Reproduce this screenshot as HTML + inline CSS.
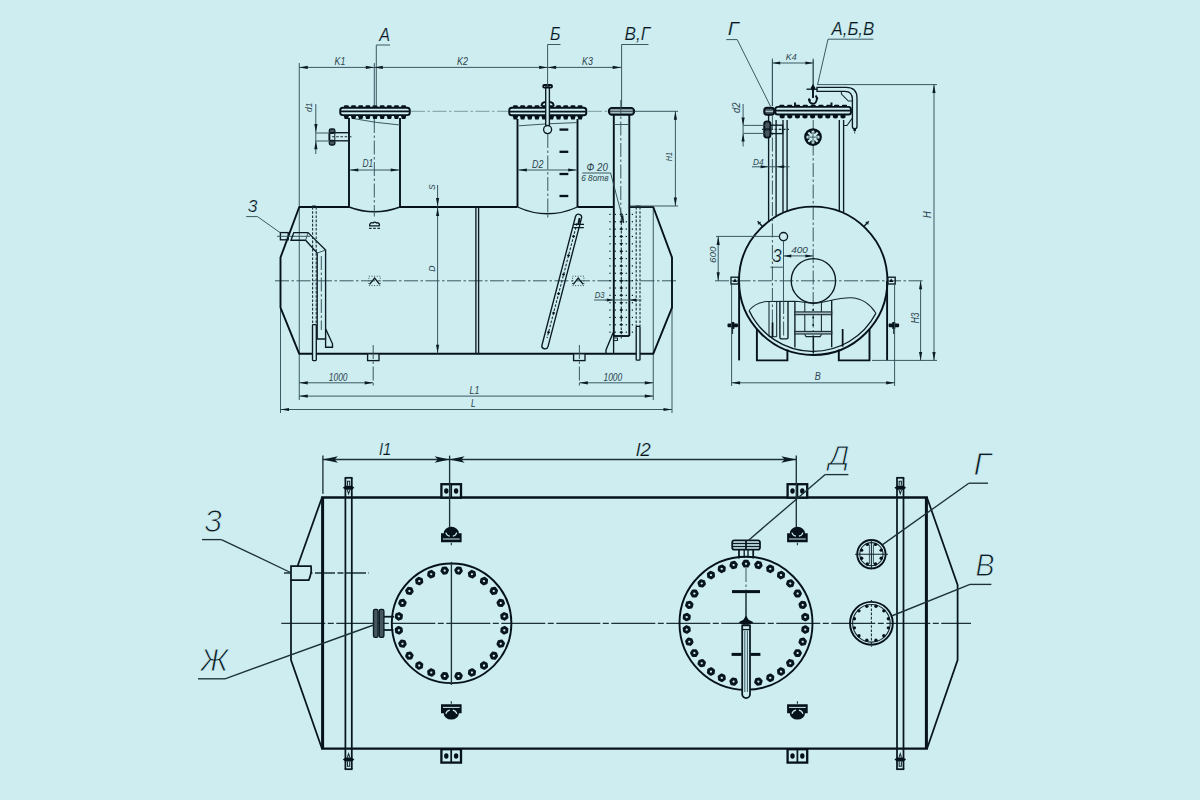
<!DOCTYPE html>
<html lang="ru">
<head>
<meta charset="utf-8">
<title>Резервуар</title>
<style>
html,body{margin:0;padding:0;background:#cdedf0;}
body{width:1200px;height:800px;overflow:hidden;}
svg{display:block;}
svg *{fill:none;stroke-linecap:butt;stroke-linejoin:miter;}
.k{stroke:#06121b;stroke-width:1.9;}
.n{stroke:#0b1a24;stroke-width:1.35;}
.m{stroke:#14252f;stroke-width:1.05;}
.t{stroke:#34505a;stroke-width:0.95;}
.p{stroke:#1d313b;stroke-width:1.35;}
.k2{stroke:#06121b;stroke-width:2.3;}
.k3{stroke:#06121b;stroke-width:3;}
.n2{stroke:#08161f;stroke-width:1.75;}
.cp{stroke:#1d313b;stroke-width:1.3;stroke-dasharray:44 2.5 6 2.5;}
.fg{fill:#46575f;}
.c{stroke:#34505a;stroke-width:0.95;stroke-dasharray:14 2.5 2.5 2.5;}
.d{stroke:#1b2f3a;stroke-width:1.1;stroke-dasharray:2.6 1.6;}
.dt{stroke:#34505a;stroke-width:1;stroke-dasharray:1 1.6;}
.ah{fill:#0c1c26;stroke:none;}
.fk{fill:#06121b;stroke:none;}
.fb{fill:#cdedf0;}
svg text{fill:#2c434d;stroke:none;font-family:"Liberation Sans","DejaVu Sans",sans-serif;font-style:italic;}
svg text.big{fill:#08151e;stroke:#cdedf0;stroke-width:0.2;}
svg text.huge{fill:#0d1c26;stroke:#cdedf0;stroke-width:0.9;}
</style>
</head>
<body>
<svg width="1200" height="800" viewBox="0 0 1200 800">
<rect x="0" y="0" width="1200" height="800" style="fill:#cdedf0;stroke:none"/>
<g id="side">
<line class="t" x1="299.25" y1="63" x2="299.25" y2="400"/>
<line class="t" x1="653.25" y1="207" x2="653.25" y2="400"/>
<line class="t" x1="280.5" y1="307" x2="280.5" y2="413"/>
<line class="t" x1="672" y1="307" x2="672" y2="413"/>
<line class="c" x1="275" y1="280.8" x2="678" y2="280.8"/>
<polyline class="k" points="299.25,207 280.5,257.5 280.5,307.5 299.25,353.8"/>
<polyline class="k" points="653.25,207 672,257.5 672,307.5 653.25,353.8"/>
<line class="k" x1="298.75" y1="207" x2="349" y2="207"/>
<line class="k" x1="400" y1="207" x2="517.5" y2="207"/>
<line class="k" x1="577.5" y1="207" x2="613.6" y2="207"/>
<line class="k" x1="629.2" y1="207" x2="653.75" y2="207"/>
<line class="k" x1="298.75" y1="353.8" x2="653.75" y2="353.8"/>
<line class="n" x1="475.9" y1="207" x2="475.9" y2="353.8"/>
<line class="n" x1="478.6" y1="207" x2="478.6" y2="353.8"/>
<line class="k" x1="349" y1="118" x2="349" y2="207"/>
<line class="k" x1="400" y1="118" x2="400" y2="207"/>
<path class="n" d="M349,207 Q374.5,216.6 400,207"/>
<path class="t" d="M353,118.5 Q376,123 400,125"/>
<line class="c" x1="374.3" y1="119" x2="374.3" y2="216.5"/>
<rect class="fk" x="343.94" y="105.2" width="4.87" height="2.6" rx="1.1"/>
<polygon class="fk" points="343.64,115.5 349.11,115.5 348.11,119 344.64,119"/>
<rect class="fk" x="351.1" y="105.2" width="4.87" height="2.6" rx="1.1"/>
<polygon class="fk" points="350.8,115.5 356.27,115.5 355.27,119 351.8,119"/>
<rect class="fk" x="358.26" y="105.2" width="4.87" height="2.6" rx="1.1"/>
<polygon class="fk" points="357.96,115.5 363.42,115.5 362.42,119 358.96,119"/>
<rect class="fk" x="365.41" y="105.2" width="4.87" height="2.6" rx="1.1"/>
<polygon class="fk" points="365.11,115.5 370.58,115.5 369.58,119 366.11,119"/>
<rect class="fk" x="372.57" y="105.2" width="4.87" height="2.6" rx="1.1"/>
<polygon class="fk" points="372.27,115.5 377.73,115.5 376.73,119 373.27,119"/>
<rect class="fk" x="379.72" y="105.2" width="4.87" height="2.6" rx="1.1"/>
<polygon class="fk" points="379.42,115.5 384.89,115.5 383.89,119 380.42,119"/>
<rect class="fk" x="386.88" y="105.2" width="4.87" height="2.6" rx="1.1"/>
<polygon class="fk" points="386.58,115.5 392.04,115.5 391.04,119 387.58,119"/>
<rect class="fk" x="394.03" y="105.2" width="4.87" height="2.6" rx="1.1"/>
<polygon class="fk" points="393.73,115.5 399.2,115.5 398.2,119 394.73,119"/>
<rect class="fk" x="401.19" y="105.2" width="4.87" height="2.6" rx="1.1"/>
<polygon class="fk" points="400.89,115.5 406.36,115.5 405.36,119 401.89,119"/>
<rect class="k fb" x="340.2" y="107.7" width="69.6" height="7.4" rx="2.6"/>
<line class="n2" x1="340.3" y1="111.4" x2="409.7" y2="111.4"/>
<rect class="n fg" x="329.3" y="129" width="5.6" height="4.2" rx="1.8"/>
<rect class="n fg" x="329.3" y="140.4" width="5.6" height="4.6" rx="1.8"/>
<line class="n" x1="329.6" y1="132.7" x2="349" y2="132.7"/>
<line class="n" x1="329.6" y1="140.8" x2="349" y2="140.8"/>
<line class="k" x1="329.4" y1="132.7" x2="329.4" y2="140.8"/>
<line class="m" x1="334.8" y1="132.7" x2="334.8" y2="140.8"/>
<line class="d" x1="332" y1="136.8" x2="353" y2="136.8"/>
<line class="t" x1="315.8" y1="104" x2="315.8" y2="154"/>
<polygon class="ah" points="315.9,132.6 314.3,124.1 317.5,124.1"/>
<polygon class="ah" points="315.9,140.8 317.5,149.3 314.3,149.3"/>
<line class="t" x1="315.8" y1="133" x2="330" y2="133"/>
<line class="t" x1="315.8" y1="141" x2="330" y2="141"/>
<text class="tx" x="312.4" y="112" font-size="9.6" textLength="9.4" lengthAdjust="spacingAndGlyphs" transform="rotate(-90 312.4 112)">d1</text>
<line class="t" x1="349.8" y1="170" x2="399.2" y2="170"/>
<polygon class="ah" points="349.8,170 358.3,168.4 358.3,171.6"/>
<polygon class="ah" points="399.2,170 390.7,171.6 390.7,168.4"/>
<text class="tx" x="362.5" y="167.4" font-size="10" textLength="10.7" lengthAdjust="spacingAndGlyphs">D1</text>
<line class="t" x1="376.3" y1="45" x2="376.3" y2="106"/>
<line class="t" x1="376.3" y1="45" x2="390" y2="45"/>
<text class="big" x="379.3" y="41" font-size="17.5" textLength="10.8" lengthAdjust="spacingAndGlyphs">А</text>
<line class="k" x1="517.5" y1="119" x2="517.5" y2="207"/>
<line class="k" x1="577.5" y1="119" x2="577.5" y2="207"/>
<path class="n" d="M517.5,207 Q547.5,220.6 577.5,207"/>
<path class="t" d="M519,125.8 L548,123.8 L577,122.6"/>
<line class="c" x1="547.8" y1="134" x2="547.8" y2="219"/>
<rect class="fk" x="512.95" y="105.2" width="4.89" height="2.6" rx="1.1"/>
<polygon class="fk" points="512.65,115.7 518.14,115.7 517.14,119.4 513.65,119.4"/>
<rect class="fk" x="520.14" y="105.2" width="4.89" height="2.6" rx="1.1"/>
<polygon class="fk" points="519.84,115.7 525.33,115.7 524.33,119.4 520.84,119.4"/>
<rect class="fk" x="527.33" y="105.2" width="4.89" height="2.6" rx="1.1"/>
<polygon class="fk" points="527.03,115.7 532.52,115.7 531.52,119.4 528.03,119.4"/>
<rect class="fk" x="534.52" y="105.2" width="4.89" height="2.6" rx="1.1"/>
<polygon class="fk" points="534.22,115.7 539.71,115.7 538.71,119.4 535.22,119.4"/>
<rect class="fk" x="541.71" y="105.2" width="4.89" height="2.6" rx="1.1"/>
<polygon class="fk" points="541.41,115.7 546.9,115.7 545.9,119.4 542.41,119.4"/>
<rect class="fk" x="548.9" y="105.2" width="4.89" height="2.6" rx="1.1"/>
<polygon class="fk" points="548.6,115.7 554.09,115.7 553.09,119.4 549.6,119.4"/>
<rect class="fk" x="556.09" y="105.2" width="4.89" height="2.6" rx="1.1"/>
<polygon class="fk" points="555.79,115.7 561.28,115.7 560.28,119.4 556.79,119.4"/>
<rect class="fk" x="563.28" y="105.2" width="4.89" height="2.6" rx="1.1"/>
<polygon class="fk" points="562.98,115.7 568.47,115.7 567.47,119.4 563.98,119.4"/>
<rect class="fk" x="570.47" y="105.2" width="4.89" height="2.6" rx="1.1"/>
<polygon class="fk" points="570.17,115.7 575.66,115.7 574.66,119.4 571.17,119.4"/>
<rect class="fk" x="577.66" y="105.2" width="4.89" height="2.6" rx="1.1"/>
<polygon class="fk" points="577.36,115.7 582.85,115.7 581.85,119.4 578.36,119.4"/>
<rect class="k fb" x="509.2" y="107.7" width="77.1" height="7.6" rx="2.6"/>
<line class="n2" x1="509.3" y1="111.5" x2="586.2" y2="111.5"/>
<rect class="n fb" x="545.7" y="87" width="3.7" height="38.5"/>
<rect class="k" x="543.2" y="85" width="8.8" height="2.6" rx="1.2"/>
<path class="k" d="M541.5,106 Q541.8,102.2 545.5,102 M549.6,102 Q553.4,102.2 553.7,106"/>
<circle class="n fb" cx="547.6" cy="129.6" r="4"/>
<line class="k2" x1="559.5" y1="129.6" x2="568.3" y2="129.6"/>
<line class="k2" x1="559.5" y1="151.8" x2="568.3" y2="151.8"/>
<line class="k2" x1="559.5" y1="174" x2="568.3" y2="174"/>
<line class="k2" x1="559.5" y1="196" x2="568.3" y2="196"/>
<line class="t" x1="518.3" y1="170" x2="576.7" y2="170"/>
<polygon class="ah" points="518.3,170 526.8,168.4 526.8,171.6"/>
<polygon class="ah" points="576.7,170 568.2,171.6 568.2,168.4"/>
<text class="tx" x="532" y="167.5" font-size="10" textLength="11.4" lengthAdjust="spacingAndGlyphs">D2</text>
<line class="t" x1="547.6" y1="44.5" x2="547.6" y2="86"/>
<line class="t" x1="547.6" y1="44.5" x2="560.5" y2="44.5"/>
<text class="big" x="550" y="40.3" font-size="17.5" textLength="10.5" lengthAdjust="spacingAndGlyphs">Б</text>
<line class="k" x1="613.8" y1="114.5" x2="613.8" y2="336"/>
<line class="k" x1="629.3" y1="114.5" x2="629.3" y2="336"/>
<line class="k" x1="613.8" y1="336" x2="629.3" y2="336"/>
<line class="t" x1="613.8" y1="124.5" x2="629.3" y2="124.5"/>
<rect class="k fg" x="608.8" y="107.9" width="25.4" height="6.8" rx="3.2"/>
<line x1="610.5" y1="110" x2="632.5" y2="110" style="stroke:#cdedf0;stroke-width:1"/>
<line x1="610.5" y1="112.8" x2="632.5" y2="112.8" style="stroke:#cdedf0;stroke-width:1"/>
<line class="c" x1="620.8" y1="100" x2="620.8" y2="215"/>
<rect class="fk" x="609.4" y="213.8" width="1.2" height="1.2"/>
<rect class="fk" x="614.7" y="213.8" width="1.2" height="1.2"/>
<rect class="fk" x="625.7" y="213.8" width="1.2" height="1.2"/>
<rect class="fk" x="631.8" y="213.8" width="1.2" height="1.2"/>
<polygon class="fk" points="619.4,214.4 621.3,212.9 623.2,214.4 621.3,215.9"/>
<rect class="fk" x="609.4" y="221.16" width="1.2" height="1.2"/>
<rect class="fk" x="614.7" y="221.16" width="1.2" height="1.2"/>
<rect class="fk" x="625.7" y="221.16" width="1.2" height="1.2"/>
<rect class="fk" x="631.8" y="221.16" width="1.2" height="1.2"/>
<polygon class="fk" points="619.4,221.76 621.3,220.26 623.2,221.76 621.3,223.26"/>
<rect class="fk" x="609.4" y="228.52" width="1.2" height="1.2"/>
<rect class="fk" x="614.7" y="228.52" width="1.2" height="1.2"/>
<rect class="fk" x="625.7" y="228.52" width="1.2" height="1.2"/>
<rect class="fk" x="631.8" y="228.52" width="1.2" height="1.2"/>
<polygon class="fk" points="619.4,229.12 621.3,227.62 623.2,229.12 621.3,230.62"/>
<rect class="fk" x="609.4" y="235.88" width="1.2" height="1.2"/>
<rect class="fk" x="614.7" y="235.88" width="1.2" height="1.2"/>
<rect class="fk" x="625.7" y="235.88" width="1.2" height="1.2"/>
<rect class="fk" x="631.8" y="235.88" width="1.2" height="1.2"/>
<polygon class="fk" points="619.4,236.48 621.3,234.98 623.2,236.48 621.3,237.98"/>
<rect class="fk" x="609.4" y="243.24" width="1.2" height="1.2"/>
<rect class="fk" x="614.7" y="243.24" width="1.2" height="1.2"/>
<rect class="fk" x="625.7" y="243.24" width="1.2" height="1.2"/>
<rect class="fk" x="631.8" y="243.24" width="1.2" height="1.2"/>
<polygon class="fk" points="619.4,243.84 621.3,242.34 623.2,243.84 621.3,245.34"/>
<rect class="fk" x="609.4" y="250.6" width="1.2" height="1.2"/>
<rect class="fk" x="614.7" y="250.6" width="1.2" height="1.2"/>
<rect class="fk" x="625.7" y="250.6" width="1.2" height="1.2"/>
<rect class="fk" x="631.8" y="250.6" width="1.2" height="1.2"/>
<polygon class="fk" points="619.4,251.2 621.3,249.7 623.2,251.2 621.3,252.7"/>
<rect class="fk" x="609.4" y="257.96" width="1.2" height="1.2"/>
<rect class="fk" x="614.7" y="257.96" width="1.2" height="1.2"/>
<rect class="fk" x="625.7" y="257.96" width="1.2" height="1.2"/>
<rect class="fk" x="631.8" y="257.96" width="1.2" height="1.2"/>
<polygon class="fk" points="619.4,258.56 621.3,257.06 623.2,258.56 621.3,260.06"/>
<rect class="fk" x="609.4" y="265.32" width="1.2" height="1.2"/>
<rect class="fk" x="614.7" y="265.32" width="1.2" height="1.2"/>
<rect class="fk" x="625.7" y="265.32" width="1.2" height="1.2"/>
<rect class="fk" x="631.8" y="265.32" width="1.2" height="1.2"/>
<polygon class="fk" points="619.4,265.92 621.3,264.42 623.2,265.92 621.3,267.42"/>
<rect class="fk" x="609.4" y="272.68" width="1.2" height="1.2"/>
<rect class="fk" x="614.7" y="272.68" width="1.2" height="1.2"/>
<rect class="fk" x="625.7" y="272.68" width="1.2" height="1.2"/>
<rect class="fk" x="631.8" y="272.68" width="1.2" height="1.2"/>
<polygon class="fk" points="619.4,273.28 621.3,271.78 623.2,273.28 621.3,274.78"/>
<rect class="fk" x="609.4" y="280.04" width="1.2" height="1.2"/>
<rect class="fk" x="614.7" y="280.04" width="1.2" height="1.2"/>
<rect class="fk" x="625.7" y="280.04" width="1.2" height="1.2"/>
<rect class="fk" x="631.8" y="280.04" width="1.2" height="1.2"/>
<polygon class="fk" points="619.4,280.64 621.3,279.14 623.2,280.64 621.3,282.14"/>
<rect class="fk" x="609.4" y="287.4" width="1.2" height="1.2"/>
<rect class="fk" x="614.7" y="287.4" width="1.2" height="1.2"/>
<rect class="fk" x="625.7" y="287.4" width="1.2" height="1.2"/>
<rect class="fk" x="631.8" y="287.4" width="1.2" height="1.2"/>
<polygon class="fk" points="619.4,288 621.3,286.5 623.2,288 621.3,289.5"/>
<rect class="fk" x="609.4" y="294.76" width="1.2" height="1.2"/>
<rect class="fk" x="614.7" y="294.76" width="1.2" height="1.2"/>
<rect class="fk" x="625.7" y="294.76" width="1.2" height="1.2"/>
<rect class="fk" x="631.8" y="294.76" width="1.2" height="1.2"/>
<polygon class="fk" points="619.4,295.36 621.3,293.86 623.2,295.36 621.3,296.86"/>
<rect class="fk" x="609.4" y="302.12" width="1.2" height="1.2"/>
<rect class="fk" x="614.7" y="302.12" width="1.2" height="1.2"/>
<rect class="fk" x="625.7" y="302.12" width="1.2" height="1.2"/>
<rect class="fk" x="631.8" y="302.12" width="1.2" height="1.2"/>
<polygon class="fk" points="619.4,302.72 621.3,301.22 623.2,302.72 621.3,304.22"/>
<rect class="fk" x="609.4" y="309.48" width="1.2" height="1.2"/>
<rect class="fk" x="614.7" y="309.48" width="1.2" height="1.2"/>
<rect class="fk" x="625.7" y="309.48" width="1.2" height="1.2"/>
<rect class="fk" x="631.8" y="309.48" width="1.2" height="1.2"/>
<polygon class="fk" points="619.4,310.08 621.3,308.58 623.2,310.08 621.3,311.58"/>
<rect class="fk" x="609.4" y="316.84" width="1.2" height="1.2"/>
<rect class="fk" x="614.7" y="316.84" width="1.2" height="1.2"/>
<rect class="fk" x="625.7" y="316.84" width="1.2" height="1.2"/>
<rect class="fk" x="631.8" y="316.84" width="1.2" height="1.2"/>
<polygon class="fk" points="619.4,317.44 621.3,315.94 623.2,317.44 621.3,318.94"/>
<rect class="fk" x="609.4" y="324.2" width="1.2" height="1.2"/>
<rect class="fk" x="614.7" y="324.2" width="1.2" height="1.2"/>
<rect class="fk" x="625.7" y="324.2" width="1.2" height="1.2"/>
<rect class="fk" x="631.8" y="324.2" width="1.2" height="1.2"/>
<polygon class="fk" points="619.4,324.8 621.3,323.3 623.2,324.8 621.3,326.3"/>
<rect class="fk" x="609.4" y="331.56" width="1.2" height="1.2"/>
<rect class="fk" x="614.7" y="331.56" width="1.2" height="1.2"/>
<rect class="fk" x="625.7" y="331.56" width="1.2" height="1.2"/>
<rect class="fk" x="631.8" y="331.56" width="1.2" height="1.2"/>
<polygon class="fk" points="619.4,332.16 621.3,330.66 623.2,332.16 621.3,333.66"/>
<line class="d" x1="621.3" y1="214" x2="621.3" y2="340"/>
<polyline class="n" points="613.2,332.5 606,350 606,353.8"/>
<line class="n" x1="613.6" y1="336" x2="613.6" y2="353.8"/>
<polyline class="m" points="613.8,338 617.5,338 617.5,340.5 613.8,340.5"/>
<line class="d" x1="636.2" y1="207" x2="636.2" y2="326"/>
<line class="d" x1="640" y1="207" x2="640" y2="326"/>
<line class="n" x1="635.6" y1="206.2" x2="640.6" y2="206.2"/>
<rect class="n fb" x="636.2" y="326.4" width="3.8" height="33.8" rx="0.8"/>
<line class="t" x1="605" y1="300" x2="641.5" y2="300"/>
<polygon class="ah" points="613.8,300 606.8,301.4 606.8,298.6"/>
<polygon class="ah" points="629.3,300 636.3,298.6 636.3,301.4"/>
<line class="t" x1="594" y1="300" x2="606" y2="300"/>
<text class="tx" x="594.8" y="297.9" font-size="9.3" textLength="9.8" lengthAdjust="spacingAndGlyphs">D3</text>
<line class="t" x1="621.6" y1="44.5" x2="621.6" y2="107"/>
<line class="t" x1="621.6" y1="44.5" x2="648.5" y2="44.5"/>
<text class="big" x="624.5" y="39.8" font-size="17.5" textLength="25.5" lengthAdjust="spacingAndGlyphs">В,Г</text>
<text class="tx" x="586.6" y="171.4" font-size="11" textLength="21.2" lengthAdjust="spacingAndGlyphs">Ф 20</text>
<line class="t" x1="582.3" y1="173" x2="610.6" y2="173"/>
<text class="tx" x="581.2" y="181.3" font-size="9.3" textLength="27.3" lengthAdjust="spacingAndGlyphs">6 8отв</text>
<line class="t" x1="610.6" y1="173" x2="623.8" y2="223"/>
<polygon class="ah" points="624,223.8 620.38,215.96 623.28,215.2"/>
<line class="t" x1="374.3" y1="63" x2="374.3" y2="106"/>
<line class="t" x1="299.25" y1="67.4" x2="374.3" y2="67.4"/>
<polygon class="ah" points="299.25,67.4 307.75,65.8 307.75,69"/>
<polygon class="ah" points="374.3,67.4 365.8,69 365.8,65.8"/>
<line class="t" x1="374.3" y1="67.4" x2="547.6" y2="67.4"/>
<polygon class="ah" points="374.3,67.4 382.8,65.8 382.8,69"/>
<polygon class="ah" points="547.6,67.4 539.1,69 539.1,65.8"/>
<line class="t" x1="547.6" y1="67.4" x2="621.2" y2="67.4"/>
<polygon class="ah" points="547.6,67.4 556.1,65.8 556.1,69"/>
<polygon class="ah" points="621.2,67.4 612.7,69 612.7,65.8"/>
<text class="tx" x="334.5" y="65" font-size="10" textLength="10.8" lengthAdjust="spacingAndGlyphs">K1</text>
<text class="tx" x="457" y="65" font-size="10" textLength="10.8" lengthAdjust="spacingAndGlyphs">K2</text>
<text class="tx" x="582" y="65" font-size="10" textLength="10.8" lengthAdjust="spacingAndGlyphs">K3</text>
<line class="c" style="opacity:.55" x1="411" y1="111.3" x2="508" y2="111.3"/>
<line class="c" style="opacity:.55" x1="588" y1="111.3" x2="608" y2="111.3"/>
<line class="t" x1="634.5" y1="111.3" x2="678" y2="111.3"/>
<line class="t" x1="675.4" y1="111.3" x2="675.4" y2="206"/>
<polygon class="ah" points="675.4,111.3 677,119.8 673.8,119.8"/>
<polygon class="ah" points="675.4,206 673.8,197.5 677,197.5"/>
<line class="t" x1="630" y1="206" x2="678" y2="206"/>
<text class="tx" x="672.3" y="161.2" font-size="9.5" textLength="9.4" lengthAdjust="spacingAndGlyphs" transform="rotate(-90 672.3 161.2)">H1</text>
<line class="t" x1="437.6" y1="185" x2="437.6" y2="207"/>
<polygon class="ah" points="437.6,206.4 436,197.9 439.2,197.9"/>
<line class="t" x1="437.6" y1="207.6" x2="437.6" y2="353.2"/>
<polygon class="ah" points="437.6,207.6 439.2,216.1 436,216.1"/>
<polygon class="ah" points="437.6,353.2 436,344.7 439.2,344.7"/>
<text class="tx" x="435" y="190" font-size="9.5" textLength="5.7" lengthAdjust="spacingAndGlyphs" transform="rotate(-90 435 190)">S</text>
<text class="tx" x="435" y="271.8" font-size="9.5" textLength="6.2" lengthAdjust="spacingAndGlyphs" transform="rotate(-90 435 271.8)">D</text>
<rect class="n" x="280.4" y="232.6" width="7.8" height="7.2"/>
<line class="t" x1="277" y1="236.3" x2="310" y2="236.3"/>
<polygon class="n" points="293.8,232.6 308,232.6 325.6,250 325.6,328.8 332.5,343.8 332.5,347.2 325.6,347.2 325.6,339 317.2,339 317.2,253.1 305.6,240.2 291,240.2"/>
<line class="n" x1="325.6" y1="328.8" x2="325.6" y2="339"/>
<line class="t" x1="308" y1="232.6" x2="305.6" y2="240.2"/>
<line class="t" x1="325.6" y1="250" x2="317.2" y2="253.1"/>
<line class="d" x1="312.6" y1="207" x2="312.6" y2="324"/>
<line class="d" x1="316.2" y1="207" x2="316.2" y2="324"/>
<line class="c" x1="321.3" y1="256" x2="321.3" y2="330"/>
<line class="n" x1="312" y1="206.2" x2="316" y2="206.2"/>
<rect class="n fb" x="312.5" y="324.6" width="3.8" height="36" rx="0.8"/>
<line class="t" x1="246.2" y1="216.6" x2="257.5" y2="216.6"/>
<line class="t" x1="257.5" y1="216.6" x2="280.6" y2="233"/>
<text class="big" x="248" y="211.9" font-size="16.5" textLength="9.5" lengthAdjust="spacingAndGlyphs">З</text>
<rect class="dt" x="368.9" y="276.2" width="11.4" height="9.4"/>
<polyline class="n" points="369.6,284.4 374.6,278 379.6,284.4"/>
<rect class="dt" x="572.5" y="276.2" width="11.4" height="9.4"/>
<polyline class="n" points="573.2,284.4 578.2,278 583.2,284.4"/>
<path class="n" d="M369,225.8 h10.8 M369.8,225.6 a2.2,2.2 0 0 1 3.2,-2.6 a2,2 0 0 1 3.4,0 a2.2,2.2 0 0 1 3,2.6"/>
<line class="d" x1="369" y1="228.4" x2="380.5" y2="228.4"/>
<rect class="n fb" x="367.6" y="353.8" width="11.4" height="6.8"/>
<rect class="n fb" x="573.6" y="353.8" width="11.4" height="6.8"/>
<line class="c" x1="373.2" y1="345" x2="373.2" y2="388"/>
<line class="c" x1="579.4" y1="345" x2="579.4" y2="388"/>
<path class="n" d="M575.5,216.52 L542,345.02 A3.1,3.1 0 0 0 548,346.58 L581.5,218.08 A3.1,3.1 0 0 0 575.5,216.52 Z"/>
<line class="d" x1="576.99" y1="223.11" x2="547.02" y2="338.06"/>
<polygon class="fk" points="571.87,236.2 573.57,234.7 575.27,236.2 573.57,237.7"/>
<polygon class="fk" points="566.87,255.4 568.57,253.9 570.27,255.4 568.57,256.9"/>
<polygon class="fk" points="561.86,274.6 563.56,273.1 565.26,274.6 563.56,276.1"/>
<polygon class="fk" points="556.86,293.8 558.56,292.3 560.26,293.8 558.56,295.3"/>
<polygon class="fk" points="551.85,313 553.55,311.5 555.25,313 553.55,314.5"/>
<polygon class="fk" points="546.85,332.2 548.55,330.7 550.25,332.2 548.55,333.7"/>
<path class="n" d="M573,224.4 h11 M573.4,227.6 h10.4"/>
<path class="k" d="M579.6,218 L578.4,224"/>
<line class="t" x1="299.25" y1="382.8" x2="373.2" y2="382.8"/>
<polygon class="ah" points="299.25,382.8 307.75,381.2 307.75,384.4"/>
<polygon class="ah" points="373.2,382.8 364.7,384.4 364.7,381.2"/>
<line class="t" x1="579.4" y1="382.8" x2="653.25" y2="382.8"/>
<polygon class="ah" points="579.4,382.8 587.9,381.2 587.9,384.4"/>
<polygon class="ah" points="653.25,382.8 644.75,384.4 644.75,381.2"/>
<text class="tx" x="328.8" y="380.6" font-size="10.4" textLength="18.7" lengthAdjust="spacingAndGlyphs">1000</text>
<text class="tx" x="603.5" y="380.6" font-size="10.4" textLength="18.7" lengthAdjust="spacingAndGlyphs">1000</text>
<line class="t" x1="299.25" y1="396.1" x2="653.25" y2="396.1"/>
<polygon class="ah" points="299.25,396.1 307.75,394.5 307.75,397.7"/>
<polygon class="ah" points="653.25,396.1 644.75,397.7 644.75,394.5"/>
<line class="t" x1="280.5" y1="409.5" x2="672" y2="409.5"/>
<polygon class="ah" points="280.5,409.5 289,407.9 289,411.1"/>
<polygon class="ah" points="672,409.5 663.5,411.1 663.5,407.9"/>
<text class="tx" x="469.6" y="393.9" font-size="10.4" textLength="9.8" lengthAdjust="spacingAndGlyphs">L1</text>
<text class="tx" x="471.1" y="407" font-size="10.4" textLength="4.6" lengthAdjust="spacingAndGlyphs">L</text>
</g>
<g id="front">
<line class="c" x1="715" y1="280.8" x2="923" y2="280.8"/>
<line class="t" x1="813.2" y1="60" x2="813.2" y2="90"/>
<line class="c" x1="813.2" y1="120" x2="813.2" y2="356"/>
<circle class="k" cx="813.2" cy="280.8" r="74.2"/>
<path class="n" d="M749.1,310.5 A70.7,70.7 0 0 0 875.9,313.3"/>
<path class="m" d="M749.1,310.5 C753,305.5 760,302 767,301.6 L794,301.2 C802,301.4 806,303.4 813.6,303.4 C823,303.4 836,297.7 850.4,297.7 C862,297.7 871,305 875.9,313.3"/>
<circle class="n" cx="813.4" cy="280.8" r="22.2"/>
<circle class="n" cx="783.5" cy="236.6" r="4.1"/>
<line class="t" x1="783.5" y1="240.5" x2="783.5" y2="267.2"/>
<line class="t" x1="783.5" y1="267.2" x2="783.5" y2="300"/>
<line class="t" x1="770.4" y1="267.2" x2="783.5" y2="267.2"/>
<text class="big" x="772.5" y="262.3" font-size="17.5" textLength="9.2" lengthAdjust="spacingAndGlyphs">З</text>
<line class="t" x1="783.5" y1="255.9" x2="813.2" y2="255.9"/>
<polygon class="ah" points="783.5,255.9 791.3,254.4 791.3,257.4"/>
<polygon class="ah" points="813.2,255.9 805.4,257.4 805.4,254.4"/>
<text class="tx" x="791.2" y="253.2" font-size="9.3" textLength="16.7" lengthAdjust="spacingAndGlyphs">400</text>
<line class="t" x1="716" y1="236.4" x2="779.4" y2="236.4"/>
<line class="t" x1="718.2" y1="236.4" x2="718.2" y2="280.8"/>
<polygon class="ah" points="718.2,236.4 719.8,244.9 716.6,244.9"/>
<polygon class="ah" points="718.2,280.8 716.6,272.3 719.8,272.3"/>
<text class="tx" x="715.5" y="263" font-size="9.8" textLength="16.5" lengthAdjust="spacingAndGlyphs" transform="rotate(-90 715.5 263)">600</text>
<line class="n" x1="768.6" y1="115" x2="768.6" y2="221"/>
<line class="n" x1="776.1" y1="120" x2="776.1" y2="216"/>
<line class="t" x1="772.4" y1="60" x2="772.4" y2="106"/>
<line class="c" x1="772.4" y1="116" x2="772.4" y2="338"/>
<line class="n" x1="783" y1="120" x2="783" y2="212.5"/>
<line class="n" x1="787.1" y1="120" x2="787.1" y2="211"/>
<line class="n" x1="839.3" y1="120" x2="839.3" y2="211"/>
<line class="n" x1="843.6" y1="120" x2="843.6" y2="212.8"/>
<line class="m" x1="769" y1="301.6" x2="769" y2="336.7"/>
<line class="m" x1="776.7" y1="301.4" x2="776.7" y2="336.7"/>
<line class="m" x1="769" y1="336.7" x2="776.7" y2="336.7"/>
<rect class="fk" x="771.7" y="322.5" width="1.7" height="14.2"/>
<path class="n" d="M779.9,301.3 V337.6 Q779.9,338.8 781.1,338.8 H786.8 Q788,338.8 788,337.6 V301.3"/>
<line class="c" x1="783.6" y1="300" x2="783.6" y2="337"/>
<line class="n" x1="794.9" y1="301.6" x2="794.9" y2="347.5"/>
<line class="m" x1="804.8" y1="303" x2="804.8" y2="334.5"/>
<line class="m" x1="821.4" y1="303" x2="821.4" y2="334.5"/>
<line class="n" x1="831.7" y1="300.2" x2="831.7" y2="347.2"/>
<rect x="794.9" y="311.9" width="36.8" height="2.8" style="fill:#9fb6bb;stroke:#14252f;stroke-width:1.05"/>
<rect x="794.9" y="331.4" width="36.8" height="2.6" style="fill:#9fb6bb;stroke:#14252f;stroke-width:1.05"/>
<polyline class="m" points="804.8,334.5 806,336.6 820.2,336.6 821.4,334.5"/>
<line class="n" x1="813.4" y1="336.6" x2="813.4" y2="353"/>
<rect class="fk" x="841.8" y="329" width="1.7" height="17.6"/>
<circle class="fk" cx="813.2" cy="310" r="0.9"/>
<circle class="fk" cx="813.2" cy="317.5" r="0.9"/>
<circle class="fk" cx="813.2" cy="325" r="0.9"/>
<line class="n" x1="762.73" y1="226.68" x2="757.62" y2="221.19"/>
<line class="m" x1="760.64" y1="221.8" x2="758.01" y2="224.25"/>
<line class="n" x1="863.67" y1="226.68" x2="868.78" y2="221.19"/>
<line class="m" x1="868.39" y1="224.25" x2="865.76" y2="221.8"/>
<line class="k" x1="739.1" y1="280.8" x2="739.1" y2="360.4"/>
<line class="k" x1="887.1" y1="280.8" x2="887.1" y2="360.4"/>
<rect class="n" x="731" y="277.2" width="7.4" height="6.8"/>
<rect class="n" x="887.8" y="277.2" width="7.4" height="6.8"/>
<polygon class="fk" points="735,278.6 737.2,282 732.8,282"/>
<polygon class="fk" points="891.2,278.6 893.4,282 889,282"/>
<rect class="fk" x="727.5" y="323.6" width="10.5" height="3.6" rx="1"/>
<rect class="fk" x="731.3" y="322" width="3" height="7" rx="0.6"/>
<line class="m" x1="732.6" y1="328" x2="732.6" y2="334"/>
<rect class="fk" x="888.6" y="323.6" width="10.5" height="3.6" rx="1"/>
<rect class="fk" x="892.3" y="322" width="3" height="7" rx="0.6"/>
<line class="m" x1="893.7" y1="328" x2="893.7" y2="334"/>
<polyline class="k" points="756.9,329 756.9,360.4 787.4,360.4 787.4,349.4"/>
<polyline class="k" points="869.5,329 869.5,360.4 838.8,360.4 838.8,349.4"/>
<line class="t" x1="731.6" y1="284" x2="731.6" y2="386"/>
<line class="t" x1="894.6" y1="284" x2="894.6" y2="386"/>
<line class="t" x1="731.6" y1="382.8" x2="894.6" y2="382.8"/>
<polygon class="ah" points="731.6,382.8 740.1,381.2 740.1,384.4"/>
<polygon class="ah" points="894.6,382.8 886.1,384.4 886.1,381.2"/>
<text class="tx" x="814.7" y="380.3" font-size="10.2" textLength="6" lengthAdjust="spacingAndGlyphs">B</text>
<line class="t" x1="872" y1="360.4" x2="937" y2="360.4"/>
<line class="t" x1="920.6" y1="280.8" x2="920.6" y2="360.4"/>
<polygon class="ah" points="920.6,280.8 922.2,289.3 919,289.3"/>
<polygon class="ah" points="920.6,360.4 919,351.9 922.2,351.9"/>
<text class="tx" x="918.7" y="323.2" font-size="10" textLength="10.6" lengthAdjust="spacingAndGlyphs" transform="rotate(-90 918.7 323.2)">H3</text>
<line class="t" x1="817.5" y1="84.6" x2="937" y2="84.6"/>
<line class="t" x1="934" y1="84.6" x2="934" y2="360.4"/>
<polygon class="ah" points="934,84.6 935.6,93.1 932.4,93.1"/>
<polygon class="ah" points="934,360.4 932.4,351.9 935.6,351.9"/>
<text class="tx" x="931.3" y="218.1" font-size="10" textLength="6.7" lengthAdjust="spacingAndGlyphs" transform="rotate(-90 931.3 218.1)">H</text>
<rect class="fk" x="779.15" y="104.8" width="5.33" height="2.2" rx="1.1"/>
<rect class="fk" x="786.99" y="104.8" width="5.33" height="2.2" rx="1.1"/>
<rect class="fk" x="794.82" y="104.8" width="5.33" height="2.2" rx="1.1"/>
<rect class="fk" x="802.65" y="104.8" width="5.33" height="2.2" rx="1.1"/>
<rect class="fk" x="810.49" y="104.8" width="5.33" height="2.2" rx="1.1"/>
<rect class="fk" x="818.32" y="104.8" width="5.33" height="2.2" rx="1.1"/>
<rect class="fk" x="826.15" y="104.8" width="5.33" height="2.2" rx="1.1"/>
<rect class="fk" x="833.99" y="104.8" width="5.33" height="2.2" rx="1.1"/>
<rect class="fk" x="841.82" y="104.8" width="5.33" height="2.2" rx="1.1"/>
<rect class="k fb" x="775.3" y="106.9" width="75.7" height="7.6" rx="2.6"/>
<line class="n2" x1="775.4" y1="110.7" x2="850.9" y2="110.7"/>
<path class="fk" d="M779.7,114.6 V117.6 Q782.2,119.6 784.7,117.6 V114.6 Z"/>
<path class="fk" d="M787.3,114.6 V117.6 Q789.8,119.6 792.3,117.6 V114.6 Z"/>
<path class="fk" d="M794.9,114.6 V117.6 Q797.4,119.6 799.9,117.6 V114.6 Z"/>
<path class="fk" d="M802.5,114.6 V117.6 Q805,119.6 807.5,117.6 V114.6 Z"/>
<path class="fk" d="M810.1,114.6 V117.6 Q812.6,119.6 815.1,117.6 V114.6 Z"/>
<path class="fk" d="M817.7,114.6 V117.6 Q820.2,119.6 822.7,117.6 V114.6 Z"/>
<path class="fk" d="M825.3,114.6 V117.6 Q827.8,119.6 830.3,117.6 V114.6 Z"/>
<path class="fk" d="M832.9,114.6 V117.6 Q835.4,119.6 837.9,117.6 V114.6 Z"/>
<path class="fk" d="M840.5,114.6 V117.6 Q843,119.6 845.5,117.6 V114.6 Z"/>
<line class="k" x1="795" y1="102.5" x2="795" y2="106"/>
<line class="k" x1="831.5" y1="102.5" x2="831.5" y2="106"/>
<rect class="k fg" x="764.2" y="107.8" width="10" height="7" rx="2.8"/>
<line x1="765.6" y1="111.3" x2="773" y2="111.3" style="stroke:#cdedf0;stroke-width:0.9"/>
<rect class="k fg" x="764.2" y="121.4" width="6.3" height="16.2" rx="2.8"/>
<line class="k" x1="764.6" y1="129.4" x2="770.2" y2="129.4"/>
<rect class="n" x="770.6" y="125.2" width="12" height="8.4"/>
<line class="d" x1="762" y1="129.4" x2="789" y2="129.4"/>
<line class="t" x1="743.1" y1="104" x2="743.1" y2="146.5"/>
<polygon class="ah" points="743.1,125.4 741.5,117.4 744.7,117.4"/>
<polygon class="ah" points="743.1,133.6 744.7,141.6 741.5,141.6"/>
<line class="t" x1="743.2" y1="125.4" x2="765" y2="125.4"/>
<line class="t" x1="743.2" y1="133.4" x2="765" y2="133.4"/>
<text class="tx" x="740" y="113" font-size="10" textLength="10.5" lengthAdjust="spacingAndGlyphs" transform="rotate(-90 740 113)">d2</text>
<line class="t" x1="752" y1="166.8" x2="789.5" y2="166.8"/>
<polygon class="ah" points="768.6,166.8 760.6,168.3 760.6,165.3"/>
<polygon class="ah" points="776.2,166.8 784.2,165.3 784.2,168.3"/>
<text class="tx" x="753" y="164.5" font-size="9.8" textLength="10.5" lengthAdjust="spacingAndGlyphs">D4</text>
<line class="t" x1="772.4" y1="58.5" x2="772.4" y2="106"/>
<line class="t" x1="813.2" y1="58.5" x2="813.2" y2="88"/>
<line class="t" x1="772.4" y1="63" x2="813.2" y2="63"/>
<polygon class="ah" points="772.4,63 780.2,61.5 780.2,64.5"/>
<polygon class="ah" points="813.2,63 805.4,64.5 805.4,61.5"/>
<text class="tx" x="785.8" y="60.2" font-size="9.6" textLength="10.8" lengthAdjust="spacingAndGlyphs">K4</text>
<circle class="fk" cx="813" cy="137.1" r="8.2"/>
<g style="fill:#cdedf0;stroke:none">
<rect x="806.4" y="135.7" width="13.2" height="2.8" transform="rotate(0 813 137.1)" style="fill:#cdedf0;stroke:none"/>
<rect x="806.4" y="136" width="13.2" height="2.2" transform="rotate(45 813 137.1)" style="fill:#cdedf0;stroke:none"/>
<rect x="806.4" y="135.7" width="13.2" height="2.8" transform="rotate(90 813 137.1)" style="fill:#cdedf0;stroke:none"/>
<rect x="806.4" y="136" width="13.2" height="2.2" transform="rotate(135 813 137.1)" style="fill:#cdedf0;stroke:none"/>
<circle cx="813" cy="137.1" r="3.3" style="fill:#cdedf0;stroke:none"/>
</g>
<circle class="k" cx="813" cy="137.1" r="7.9"/>
<line class="t" x1="807.8" y1="137.1" x2="818.2" y2="137.1"/>
<line class="t" x1="813" y1="131.9" x2="813" y2="142.3"/>
<line class="n" x1="806.5" y1="89.2" x2="817.5" y2="89.2"/>
<path class="fk" d="M813,84 L815.4,88 L813,92 L810.6,88 Z"/>
<path class="k" d="M813,90 V98 M816.9,97.4 C817.2,101.6 815,103.8 813,103.8 C810.6,103.8 808.8,101.8 809,98.8"/>
<path class="k" d="M815.6,95.5 L817.6,99 M809,98.6 L810.2,101"/>
<path class="n" d="M817,87.4 H846 Q857,87.4 857,98 V126.4 A2.3,2.3 0 0 1 852.4,126.4 V99.5 Q852.4,91.4 845,91.4 H817 Z"/>
<path class="m" d="M841.4,91.6 V94 L848.4,101 L852.4,101"/>
<path class="m" d="M843.5,125.5 H847 L851.9,118.6"/>
<rect class="fk" x="853.4" y="128.6" width="2.6" height="2.6" rx="1"/>
<line class="t" x1="854.7" y1="131.5" x2="854.7" y2="133.5"/>
<line class="t" x1="726.3" y1="39.6" x2="737.2" y2="39.6"/>
<line class="t" x1="737.2" y1="39.6" x2="770.6" y2="106.5"/>
<text class="big" x="727.8" y="35" font-size="18" textLength="11" lengthAdjust="spacingAndGlyphs">Г</text>
<line class="t" x1="828" y1="39.2" x2="873.4" y2="39.2"/>
<line class="t" x1="828" y1="39.2" x2="817.5" y2="85"/>
<text class="big" x="831.5" y="35" font-size="18" textLength="42.7" lengthAdjust="spacingAndGlyphs">А,Б,В</text>
</g>
<g id="plan">
<line class="cp" x1="281.3" y1="623.3" x2="971" y2="623.3"/>
<line class="p" style="stroke-dasharray:20 2.5 6 2.5" x1="284" y1="573" x2="369" y2="573"/>
<line class="k2" x1="321.1" y1="497.5" x2="927.9" y2="497.5"/>
<line class="k2" x1="321.1" y1="748.7" x2="927.9" y2="748.7"/>
<line class="k3" x1="322.6" y1="497.5" x2="322.6" y2="748.7"/>
<line class="k3" x1="926.4" y1="497.5" x2="926.4" y2="748.7"/>
<polyline class="n2" points="322,497.5 297.6,566"/>
<polyline class="n2" points="291,580 291,660 322,748.7"/>
<polyline class="n2" points="927,497.5 957.6,585 957.6,660 927,748.7"/>
<path class="n2 fb" d="M291,566.2 H311 Q312,573 308.8,580 H291 Z"/>
<line class="n2" x1="345.4" y1="478" x2="345.4" y2="769"/>
<line class="n2" x1="351.8" y1="478" x2="351.8" y2="769"/>
<line class="n2" x1="344.6" y1="477.8" x2="352.6" y2="477.8"/>
<line class="n2" x1="344.6" y1="769.2" x2="352.6" y2="769.2"/>
<polygon class="fk" points="342.8,487.8 345.4,485.8 351.8,485.8 354.4,487.8 351.8,489.8 345.4,489.8"/>
<polyline class="m" points="347.5,485.8 347.5,481.2 349.7,481.2 349.7,485.8"/>
<polyline class="m" points="347.3,489.8 348.6,493.8 349.9,489.8"/>
<polygon class="fk" points="342.8,759.6 345.4,757.6 351.8,757.6 354.4,759.6 351.8,761.6 345.4,761.6"/>
<polyline class="m" points="347.5,761.6 347.5,766.2 349.7,766.2 349.7,761.6"/>
<polyline class="m" points="347.3,757.6 348.6,753.6 349.9,757.6"/>
<line class="n2" x1="897" y1="478" x2="897" y2="769"/>
<line class="n2" x1="903.5" y1="478" x2="903.5" y2="769"/>
<line class="n2" x1="896.2" y1="477.8" x2="904.3" y2="477.8"/>
<line class="n2" x1="896.2" y1="769.2" x2="904.3" y2="769.2"/>
<polygon class="fk" points="894.4,487.8 897,485.8 903.5,485.8 906.1,487.8 903.5,489.8 897,489.8"/>
<polyline class="m" points="899.15,485.8 899.15,481.2 901.35,481.2 901.35,485.8"/>
<polyline class="m" points="898.95,489.8 900.25,493.8 901.55,489.8"/>
<polygon class="fk" points="894.4,759.6 897,757.6 903.5,757.6 906.1,759.6 903.5,761.6 897,761.6"/>
<polyline class="m" points="899.15,761.6 899.15,766.2 901.35,766.2 901.35,761.6"/>
<polyline class="m" points="898.95,757.6 900.25,753.6 901.55,757.6"/>
<rect class="k2 fb" x="441.4" y="484.2" width="19.6" height="13.4"/>
<line class="n2" x1="451.2" y1="484.2" x2="451.2" y2="497.6"/>
<ellipse class="fk" cx="446.3" cy="491" rx="2.2" ry="2.8"/>
<ellipse class="fk" cx="456.1" cy="491" rx="2.2" ry="2.8"/>
<rect class="k2 fb" x="441.4" y="749.2" width="19.6" height="13.4"/>
<line class="n2" x1="451.2" y1="749.2" x2="451.2" y2="762.6"/>
<ellipse class="fk" cx="446.3" cy="756" rx="2.2" ry="2.8"/>
<ellipse class="fk" cx="456.1" cy="756" rx="2.2" ry="2.8"/>
<rect class="k2 fb" x="787.6" y="484.2" width="19.6" height="13.4"/>
<line class="n2" x1="797.4" y1="484.2" x2="797.4" y2="497.6"/>
<ellipse class="fk" cx="792.5" cy="491" rx="2.2" ry="2.8"/>
<ellipse class="fk" cx="802.3" cy="491" rx="2.2" ry="2.8"/>
<rect class="k2 fb" x="787.6" y="749.2" width="19.6" height="13.4"/>
<line class="n2" x1="797.4" y1="749.2" x2="797.4" y2="762.6"/>
<ellipse class="fk" cx="792.5" cy="756" rx="2.2" ry="2.8"/>
<ellipse class="fk" cx="802.3" cy="756" rx="2.2" ry="2.8"/>
<path class="fk" d="M441,542.2 V533.2 H443.7 A7.6,6.4 0 0 1 458.9,533.2 H461.6 V542.2 Z"/>
<line x1="442.9" y1="539" x2="459.7" y2="539" style="stroke:#cdedf0;stroke-width:1"/>
<path d="M445.8,532.6 q1,3 4,3.6 M456.8,532.6 q-1,3 -4,3.6" style="stroke:#cdedf0;stroke-width:1.2"/>
<line class="m" x1="451.3" y1="542.7" x2="451.3" y2="545.2"/>
<path class="fk" d="M787.1,542.2 V533.2 H789.8 A7.6,6.4 0 0 1 805,533.2 H807.7 V542.2 Z"/>
<line x1="789" y1="539" x2="805.8" y2="539" style="stroke:#cdedf0;stroke-width:1"/>
<path d="M791.9,532.6 q1,3 4,3.6 M802.9,532.6 q-1,3 -4,3.6" style="stroke:#cdedf0;stroke-width:1.2"/>
<line class="m" x1="797.4" y1="542.7" x2="797.4" y2="545.2"/>
<path class="fk" d="M441,704.2 V713.2 H443.7 A7.6,6.4 0 0 0 458.9,713.2 H461.6 V704.2 Z"/>
<line x1="442.9" y1="707.4" x2="459.7" y2="707.4" style="stroke:#cdedf0;stroke-width:1"/>
<path d="M445.8,713.8 q1,-3 4,-3.6 M456.8,713.8 q-1,-3 -4,-3.6" style="stroke:#cdedf0;stroke-width:1.2"/>
<line class="m" x1="451.3" y1="703.7" x2="451.3" y2="701.2"/>
<path class="fk" d="M787.1,704.2 V713.2 H789.8 A7.6,6.4 0 0 0 805,713.2 H807.7 V704.2 Z"/>
<line x1="789" y1="707.4" x2="805.8" y2="707.4" style="stroke:#cdedf0;stroke-width:1"/>
<path d="M791.9,713.8 q1,-3 4,-3.6 M802.9,713.8 q-1,-3 -4,-3.6" style="stroke:#cdedf0;stroke-width:1.2"/>
<line class="m" x1="797.4" y1="703.7" x2="797.4" y2="701.2"/>
<line class="p" x1="322.9" y1="455.6" x2="322.9" y2="493.8"/>
<line class="p" x1="449.6" y1="455.6" x2="449.6" y2="527"/>
<line class="p" x1="796.3" y1="455.6" x2="796.3" y2="527"/>
<line class="p" x1="322.9" y1="459.5" x2="449.6" y2="459.5"/>
<polygon class="ah" points="322.9,459.5 337.9,456.3 334.6,459.5 337.9,462.7"/>
<polygon class="ah" points="449.6,459.5 434.6,462.7 437.9,459.5 434.6,456.3"/>
<line class="p" x1="449.6" y1="459.5" x2="796.3" y2="459.5"/>
<polygon class="ah" points="449.6,459.5 464.6,456.3 461.3,459.5 464.6,462.7"/>
<polygon class="ah" points="796.3,459.5 781.3,462.7 784.6,459.5 781.3,456.3"/>
<text class="big" x="379.3" y="455.3" font-size="17" textLength="12" lengthAdjust="spacingAndGlyphs">l1</text>
<text class="big" x="636" y="455.5" font-size="17.5" textLength="14.7" lengthAdjust="spacingAndGlyphs">l2</text>
<circle class="k" cx="451.6" cy="623.3" r="59.8"/>
<polygon points="461.37,570.93 459.63,573.19 456.81,572.82 455.72,570.18 457.45,567.92 460.28,568.29" style="stroke:#08151e;stroke-width:2.9;stroke-linejoin:round"/>
<polygon points="474.59,575.24 472.33,576.98 469.7,575.88 469.33,573.06 471.59,571.32 474.22,572.41" style="stroke:#08151e;stroke-width:2.9;stroke-linejoin:round"/>
<polygon points="486.25,582.83 483.61,583.92 481.35,582.18 481.73,579.36 484.36,578.27 486.62,580" style="stroke:#08151e;stroke-width:2.9;stroke-linejoin:round"/>
<polygon points="495.54,593.17 492.72,593.55 490.98,591.29 492.07,588.65 494.9,588.28 496.63,590.54" style="stroke:#08151e;stroke-width:2.9;stroke-linejoin:round"/>
<polygon points="501.84,605.57 499.02,605.2 497.92,602.57 499.66,600.31 502.49,600.68 503.58,603.31" style="stroke:#08151e;stroke-width:2.9;stroke-linejoin:round"/>
<polygon points="504.72,619.18 502.08,618.09 501.71,615.27 503.97,613.53 506.61,614.62 506.98,617.45" style="stroke:#08151e;stroke-width:2.9;stroke-linejoin:round"/>
<polygon points="503.97,633.07 501.71,631.33 502.08,628.51 504.72,627.42 506.98,629.15 506.61,631.98" style="stroke:#08151e;stroke-width:2.9;stroke-linejoin:round"/>
<polygon points="499.66,646.29 497.92,644.03 499.02,641.4 501.84,641.03 503.58,643.29 502.49,645.92" style="stroke:#08151e;stroke-width:2.9;stroke-linejoin:round"/>
<polygon points="492.07,657.95 490.98,655.31 492.72,653.05 495.54,653.43 496.63,656.06 494.9,658.32" style="stroke:#08151e;stroke-width:2.9;stroke-linejoin:round"/>
<polygon points="481.73,667.24 481.35,664.42 483.61,662.68 486.25,663.77 486.62,666.6 484.36,668.33" style="stroke:#08151e;stroke-width:2.9;stroke-linejoin:round"/>
<polygon points="469.33,673.54 469.7,670.72 472.33,669.62 474.59,671.36 474.22,674.19 471.59,675.28" style="stroke:#08151e;stroke-width:2.9;stroke-linejoin:round"/>
<polygon points="455.72,676.42 456.81,673.78 459.63,673.41 461.37,675.67 460.28,678.31 457.45,678.68" style="stroke:#08151e;stroke-width:2.9;stroke-linejoin:round"/>
<polygon points="441.83,675.67 443.57,673.41 446.39,673.78 447.48,676.42 445.75,678.68 442.92,678.31" style="stroke:#08151e;stroke-width:2.9;stroke-linejoin:round"/>
<polygon points="428.61,671.36 430.87,669.62 433.5,670.72 433.87,673.54 431.61,675.28 428.98,674.19" style="stroke:#08151e;stroke-width:2.9;stroke-linejoin:round"/>
<polygon points="416.95,663.77 419.59,662.68 421.85,664.42 421.47,667.24 418.84,668.33 416.58,666.6" style="stroke:#08151e;stroke-width:2.9;stroke-linejoin:round"/>
<polygon points="407.66,653.43 410.48,653.05 412.22,655.31 411.13,657.95 408.3,658.32 406.57,656.06" style="stroke:#08151e;stroke-width:2.9;stroke-linejoin:round"/>
<polygon points="401.36,641.03 404.18,641.4 405.28,644.03 403.54,646.29 400.71,645.92 399.62,643.29" style="stroke:#08151e;stroke-width:2.9;stroke-linejoin:round"/>
<polygon points="398.48,627.42 401.12,628.51 401.49,631.33 399.23,633.07 396.59,631.98 396.22,629.15" style="stroke:#08151e;stroke-width:2.9;stroke-linejoin:round"/>
<polygon points="399.23,613.53 401.49,615.27 401.12,618.09 398.48,619.18 396.22,617.45 396.59,614.62" style="stroke:#08151e;stroke-width:2.9;stroke-linejoin:round"/>
<polygon points="403.54,600.31 405.28,602.57 404.18,605.2 401.36,605.57 399.62,603.31 400.71,600.68" style="stroke:#08151e;stroke-width:2.9;stroke-linejoin:round"/>
<polygon points="411.13,588.65 412.22,591.29 410.48,593.55 407.66,593.17 406.57,590.54 408.3,588.28" style="stroke:#08151e;stroke-width:2.9;stroke-linejoin:round"/>
<polygon points="421.47,579.36 421.85,582.18 419.59,583.92 416.95,582.83 416.58,580 418.84,578.27" style="stroke:#08151e;stroke-width:2.9;stroke-linejoin:round"/>
<polygon points="433.87,573.06 433.5,575.88 430.87,576.98 428.61,575.24 428.98,572.41 431.61,571.32" style="stroke:#08151e;stroke-width:2.9;stroke-linejoin:round"/>
<polygon points="447.48,570.18 446.39,572.82 443.57,573.19 441.83,570.93 442.92,568.29 445.75,567.92" style="stroke:#08151e;stroke-width:2.9;stroke-linejoin:round"/>
<line class="p" x1="451.4" y1="562" x2="451.4" y2="685"/>
<rect class="n fg" x="373.5" y="609.4" width="4.6" height="28" rx="1.6"/>
<rect class="n fg" x="379.3" y="609.4" width="4.6" height="28" rx="1.6"/>
<line class="n2" x1="384" y1="616.7" x2="394" y2="616.7"/>
<line class="n2" x1="384" y1="630" x2="393.4" y2="630"/>
<circle class="k" cx="746" cy="623.3" r="66.5"/>
<polygon points="748.85,563.7 747.42,566.17 744.58,566.17 743.15,563.7 744.58,561.23 747.42,561.23" style="stroke:#08151e;stroke-width:2.9;stroke-linejoin:round"/>
<polygon points="761.18,565.59 759.27,567.71 756.48,567.12 755.6,564.41 757.51,562.29 760.3,562.88" style="stroke:#08151e;stroke-width:2.9;stroke-linejoin:round"/>
<polygon points="772.85,570.01 770.54,571.69 767.94,570.53 767.64,567.69 769.94,566.02 772.55,567.18" style="stroke:#08151e;stroke-width:2.9;stroke-linejoin:round"/>
<polygon points="783.34,576.76 780.73,577.92 778.43,576.24 778.73,573.41 781.33,572.25 783.64,573.92" style="stroke:#08151e;stroke-width:2.9;stroke-linejoin:round"/>
<polygon points="792.2,585.54 789.41,586.13 787.5,584.01 788.38,581.3 791.17,580.71 793.08,582.83" style="stroke:#08151e;stroke-width:2.9;stroke-linejoin:round"/>
<polygon points="799.04,595.97 796.19,595.97 794.77,593.5 796.19,591.03 799.04,591.03 800.47,593.5" style="stroke:#08151e;stroke-width:2.9;stroke-linejoin:round"/>
<polygon points="803.56,607.59 800.78,607 799.9,604.29 801.8,602.17 804.59,602.76 805.47,605.48" style="stroke:#08151e;stroke-width:2.9;stroke-linejoin:round"/>
<polygon points="805.57,619.9 802.97,618.75 802.67,615.91 804.98,614.24 807.58,615.39 807.88,618.23" style="stroke:#08151e;stroke-width:2.9;stroke-linejoin:round"/>
<polygon points="804.98,632.36 802.67,630.69 802.97,627.85 805.57,626.7 807.88,628.37 807.58,631.21" style="stroke:#08151e;stroke-width:2.9;stroke-linejoin:round"/>
<polygon points="801.8,644.43 799.9,642.31 800.78,639.6 803.56,639.01 805.47,641.12 804.59,643.84" style="stroke:#08151e;stroke-width:2.9;stroke-linejoin:round"/>
<polygon points="796.19,655.57 794.77,653.1 796.19,650.63 799.04,650.63 800.47,653.1 799.04,655.57" style="stroke:#08151e;stroke-width:2.9;stroke-linejoin:round"/>
<polygon points="788.38,665.3 787.5,662.59 789.41,660.47 792.2,661.06 793.08,663.77 791.17,665.89" style="stroke:#08151e;stroke-width:2.9;stroke-linejoin:round"/>
<polygon points="778.73,673.19 778.43,670.36 780.73,668.68 783.34,669.84 783.64,672.68 781.33,674.35" style="stroke:#08151e;stroke-width:2.9;stroke-linejoin:round"/>
<polygon points="767.64,678.91 767.94,676.07 770.54,674.91 772.85,676.59 772.55,679.42 769.94,680.58" style="stroke:#08151e;stroke-width:2.9;stroke-linejoin:round"/>
<polygon points="755.6,682.19 756.48,679.48 759.27,678.89 761.18,681.01 760.3,683.72 757.51,684.31" style="stroke:#08151e;stroke-width:2.9;stroke-linejoin:round"/>
<polygon points="743.15,682.9 744.58,680.43 747.42,680.43 748.85,682.9 747.42,685.37 744.58,685.37" style="stroke:#08151e;stroke-width:2.9;stroke-linejoin:round"/>
<polygon points="730.82,681.01 732.73,678.89 735.52,679.48 736.4,682.19 734.49,684.31 731.7,683.72" style="stroke:#08151e;stroke-width:2.9;stroke-linejoin:round"/>
<polygon points="719.15,676.59 721.46,674.91 724.06,676.07 724.36,678.91 722.06,680.58 719.45,679.42" style="stroke:#08151e;stroke-width:2.9;stroke-linejoin:round"/>
<polygon points="708.66,669.84 711.27,668.68 713.57,670.36 713.27,673.19 710.67,674.35 708.36,672.68" style="stroke:#08151e;stroke-width:2.9;stroke-linejoin:round"/>
<polygon points="699.8,661.06 702.59,660.47 704.5,662.59 703.62,665.3 700.83,665.89 698.92,663.77" style="stroke:#08151e;stroke-width:2.9;stroke-linejoin:round"/>
<polygon points="692.96,650.63 695.81,650.63 697.23,653.1 695.81,655.57 692.96,655.57 691.53,653.1" style="stroke:#08151e;stroke-width:2.9;stroke-linejoin:round"/>
<polygon points="688.44,639.01 691.22,639.6 692.1,642.31 690.2,644.43 687.41,643.84 686.53,641.12" style="stroke:#08151e;stroke-width:2.9;stroke-linejoin:round"/>
<polygon points="686.43,626.7 689.03,627.85 689.33,630.69 687.02,632.36 684.42,631.21 684.12,628.37" style="stroke:#08151e;stroke-width:2.9;stroke-linejoin:round"/>
<polygon points="687.02,614.24 689.33,615.91 689.03,618.75 686.43,619.9 684.12,618.23 684.42,615.39" style="stroke:#08151e;stroke-width:2.9;stroke-linejoin:round"/>
<polygon points="690.2,602.17 692.1,604.29 691.22,607 688.44,607.59 686.53,605.48 687.41,602.76" style="stroke:#08151e;stroke-width:2.9;stroke-linejoin:round"/>
<polygon points="695.81,591.03 697.23,593.5 695.81,595.97 692.96,595.97 691.53,593.5 692.96,591.03" style="stroke:#08151e;stroke-width:2.9;stroke-linejoin:round"/>
<polygon points="703.62,581.3 704.5,584.01 702.59,586.13 699.8,585.54 698.92,582.83 700.83,580.71" style="stroke:#08151e;stroke-width:2.9;stroke-linejoin:round"/>
<polygon points="713.27,573.41 713.57,576.24 711.27,577.92 708.66,576.76 708.36,573.92 710.67,572.25" style="stroke:#08151e;stroke-width:2.9;stroke-linejoin:round"/>
<polygon points="724.36,567.69 724.06,570.53 721.46,571.69 719.15,570.01 719.45,567.18 722.06,566.02" style="stroke:#08151e;stroke-width:2.9;stroke-linejoin:round"/>
<polygon points="736.4,564.41 735.52,567.12 732.73,567.71 730.82,565.59 731.7,562.88 734.49,562.29" style="stroke:#08151e;stroke-width:2.9;stroke-linejoin:round"/>
<line class="c" x1="746" y1="568" x2="746" y2="590"/>
<line class="k3" x1="732" y1="591.6" x2="760" y2="591.6"/>
<line class="n" x1="746" y1="592" x2="746" y2="617"/>
<path class="fk" d="M746,615.5 L748.6,619.8 L753.6,622.2 L748.8,624.8 L743.2,624.8 L738.6,622.2 L743.4,619.8 Z"/>
<path class="n2 fb" d="M742.2,625.4 V694.2 A3.9,3.9 0 0 0 750,694.2 V625.4 Z"/>
<line class="t" x1="744.8" y1="631" x2="744.8" y2="692"/>
<line class="t" x1="747.4" y1="631" x2="747.4" y2="692"/>
<line class="n" x1="742.2" y1="629.6" x2="750" y2="629.6"/>
<line class="k3" x1="731.6" y1="654.4" x2="741.6" y2="654.4"/>
<line class="k3" x1="750.6" y1="654.4" x2="760.4" y2="654.4"/>
<rect class="n2 fb" x="732.2" y="540.4" width="27.8" height="9.2" rx="2.2"/>
<line class="n" x1="732.2" y1="543.5" x2="760" y2="543.5"/>
<line class="n" x1="732.2" y1="546.5" x2="760" y2="546.5"/>
<line class="n2" x1="746" y1="540.4" x2="746" y2="549.6"/>
<line class="n2" x1="739" y1="549.6" x2="739" y2="558.4"/>
<line class="n2" x1="753.2" y1="549.6" x2="753.2" y2="558.4"/>
<line class="n" x1="744.2" y1="549.6" x2="744.2" y2="558"/>
<line class="n" x1="748" y1="549.6" x2="748" y2="558"/>
<circle class="k" cx="871.4" cy="554.2" r="14.2"/>
<circle class="m" cx="871.4" cy="554.2" r="11.6"/>
<circle class="fk" cx="881.19" cy="558.26" r="1.7"/>
<circle class="fk" cx="875.46" cy="563.99" r="1.7"/>
<circle class="fk" cx="867.34" cy="563.99" r="1.7"/>
<circle class="fk" cx="861.61" cy="558.26" r="1.7"/>
<circle class="fk" cx="861.61" cy="550.14" r="1.7"/>
<circle class="fk" cx="867.34" cy="544.41" r="1.7"/>
<circle class="fk" cx="875.46" cy="544.41" r="1.7"/>
<circle class="fk" cx="881.19" cy="550.14" r="1.7"/>
<line class="m" x1="871.4" y1="539" x2="871.4" y2="569.5"/>
<line class="t" x1="873.4" y1="544.5" x2="873.4" y2="564"/>
<line class="t" x1="869.4" y1="544.5" x2="869.4" y2="564"/>
<line class="m" x1="855" y1="554.2" x2="888" y2="554.2"/>
<circle class="k" cx="871.4" cy="623.3" r="21.4"/>
<circle class="m" cx="871.4" cy="623.3" r="18.8"/>
<circle class="fk" cx="888.4" cy="627.86" r="1.7"/>
<circle class="fk" cx="883.85" cy="635.75" r="1.7"/>
<circle class="fk" cx="875.96" cy="640.3" r="1.7"/>
<circle class="fk" cx="866.84" cy="640.3" r="1.7"/>
<circle class="fk" cx="858.95" cy="635.75" r="1.7"/>
<circle class="fk" cx="854.4" cy="627.86" r="1.7"/>
<circle class="fk" cx="854.4" cy="618.74" r="1.7"/>
<circle class="fk" cx="858.95" cy="610.85" r="1.7"/>
<circle class="fk" cx="866.84" cy="606.3" r="1.7"/>
<circle class="fk" cx="875.96" cy="606.3" r="1.7"/>
<circle class="fk" cx="883.85" cy="610.85" r="1.7"/>
<circle class="fk" cx="888.4" cy="618.74" r="1.7"/>
<line class="d" x1="871.4" y1="600" x2="871.4" y2="647"/>
<line class="p" x1="202" y1="539.6" x2="221.4" y2="539.6"/>
<line class="p" x1="221.4" y1="539.6" x2="290.5" y2="572.5"/>
<text class="huge" x="204.5" y="532" font-size="31" textLength="17.5" lengthAdjust="spacingAndGlyphs">З</text>
<line class="p" x1="198" y1="678.8" x2="225" y2="678.8"/>
<line class="p" x1="225" y1="678.8" x2="373.6" y2="625"/>
<text class="huge" x="200.5" y="670.5" font-size="31" textLength="27.5" lengthAdjust="spacingAndGlyphs">Ж</text>
<line class="p" x1="825.2" y1="474.6" x2="848.4" y2="474.6"/>
<line class="p" x1="825.2" y1="474.6" x2="748.6" y2="540.2"/>
<text class="huge" x="828.8" y="464.6" font-size="28" textLength="20.5" lengthAdjust="spacingAndGlyphs">Д</text>
<line class="p" x1="968.8" y1="483.2" x2="988" y2="483.2"/>
<line class="p" x1="968.8" y1="483.2" x2="882.6" y2="544.6"/>
<text class="huge" x="973.4" y="475.4" font-size="31" textLength="17.5" lengthAdjust="spacingAndGlyphs">Г</text>
<line class="p" x1="970" y1="584.4" x2="991.4" y2="584.4"/>
<line class="p" x1="970" y1="584.4" x2="891.6" y2="616"/>
<text class="huge" x="975.4" y="576.4" font-size="31" textLength="19" lengthAdjust="spacingAndGlyphs">В</text>
</g>
</svg>
</body>
</html>
